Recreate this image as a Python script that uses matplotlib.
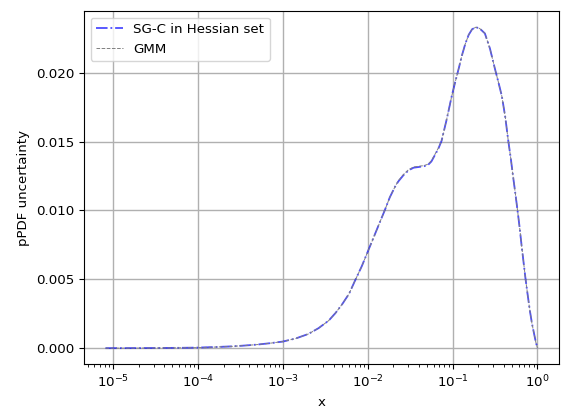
import numpy as np
import matplotlib
matplotlib.use("Agg")
import matplotlib.pyplot as plt

log_x = [-5.09, -4.8, -4.5, -4.2, -4.0, -3.8, -3.6, -3.45, -3.3, -3.15, -3.0,
         -2.85, -2.7, -2.58, -2.46, -2.38, -2.3, -2.22, -2.15, -2.07, -2.0,
         -1.95, -1.9, -1.85, -1.8, -1.74, -1.68, -1.64, -1.58, -1.52, -1.46,
         -1.40, -1.34, -1.29, -1.25, -1.21, -1.17, -1.13, -1.07, -1.01, -0.97,
         -0.93, -0.89, -0.85, -0.81, -0.77, -0.725, -0.68, -0.62, -0.56, -0.50,
         -0.46, -0.42, -0.38, -0.345, -0.315, -0.286, -0.26, -0.235, -0.21,
         -0.188, -0.165, -0.141, -0.115, -0.089, -0.065, -0.04, -0.02, 0.0]
sgc = [0.0, 0.003, 0.01, 0.025, 0.04, 0.08, 0.13, 0.19, 0.26, 0.36, 0.48,
       0.70, 1.03, 1.45, 2.0, 2.55, 3.2, 3.95, 4.9, 5.95, 7.0,
       7.75, 8.5, 9.25, 10.0, 10.95, 11.7, 12.1, 12.55, 12.9, 13.1,
       13.15, 13.2, 13.3, 13.55, 14.0, 14.45, 15.05, 16.6, 18.3, 19.3,
       20.25, 21.25, 22.1, 22.75, 23.15, 23.3, 23.2, 22.85, 21.75, 20.25,
       19.3, 18.3, 16.8, 15.1, 13.8, 12.4, 11.2, 10.0, 8.75,
       7.5, 6.3, 5.05, 3.85, 2.7, 1.8, 1.05, 0.45, 0.0]
gmm = [0.0, 0.003, 0.01, 0.025, 0.04, 0.08, 0.13, 0.19, 0.26, 0.36, 0.48,
       0.70, 1.03, 1.45, 2.0, 2.55, 3.2, 3.95, 4.9, 5.95, 7.0,
       7.75, 8.5, 9.25, 10.0, 10.95, 11.7, 12.15, 12.6, 12.95, 13.15,
       13.2, 13.25, 13.35, 13.6, 14.05, 14.5, 15.05, 16.6, 18.3, 19.3,
       20.25, 21.25, 22.1, 22.75, 23.15, 23.3, 23.2, 22.85, 21.75, 20.25,
       19.3, 18.3, 16.8, 15.1, 13.8, 12.4, 11.2, 10.0, 8.75,
       7.5, 6.3, 5.05, 3.85, 2.7, 1.8, 1.05, 0.45, 0.0]

x = 10.0 ** np.array(log_x)
y_sgc = np.array(sgc) * 1e-3
y_gmm = np.array(gmm) * 1e-3

plt.rcParams["font.size"] = 9.6

fig = plt.figure(figsize=(5.67, 4.12), dpi=100)
ax = fig.add_axes([0.148, 0.116, 0.838, 0.857])
ax.plot(x, y_sgc, color="blue", linestyle="-.", linewidth=1.3, alpha=0.7,
        label="SG-C in Hessian set")
ax.plot(x, y_gmm, color="gray", linestyle="--", linewidth=0.7,
        label="GMM")
ax.set_xscale("log")
ax.set_xlabel("x")
ax.set_ylabel("pPDF uncertainty")
ax.grid(True, which="major", color="#b0b0b0", linewidth=1.0)
ax.legend(loc="upper left")
fig.savefig("out.png", dpi=100)
